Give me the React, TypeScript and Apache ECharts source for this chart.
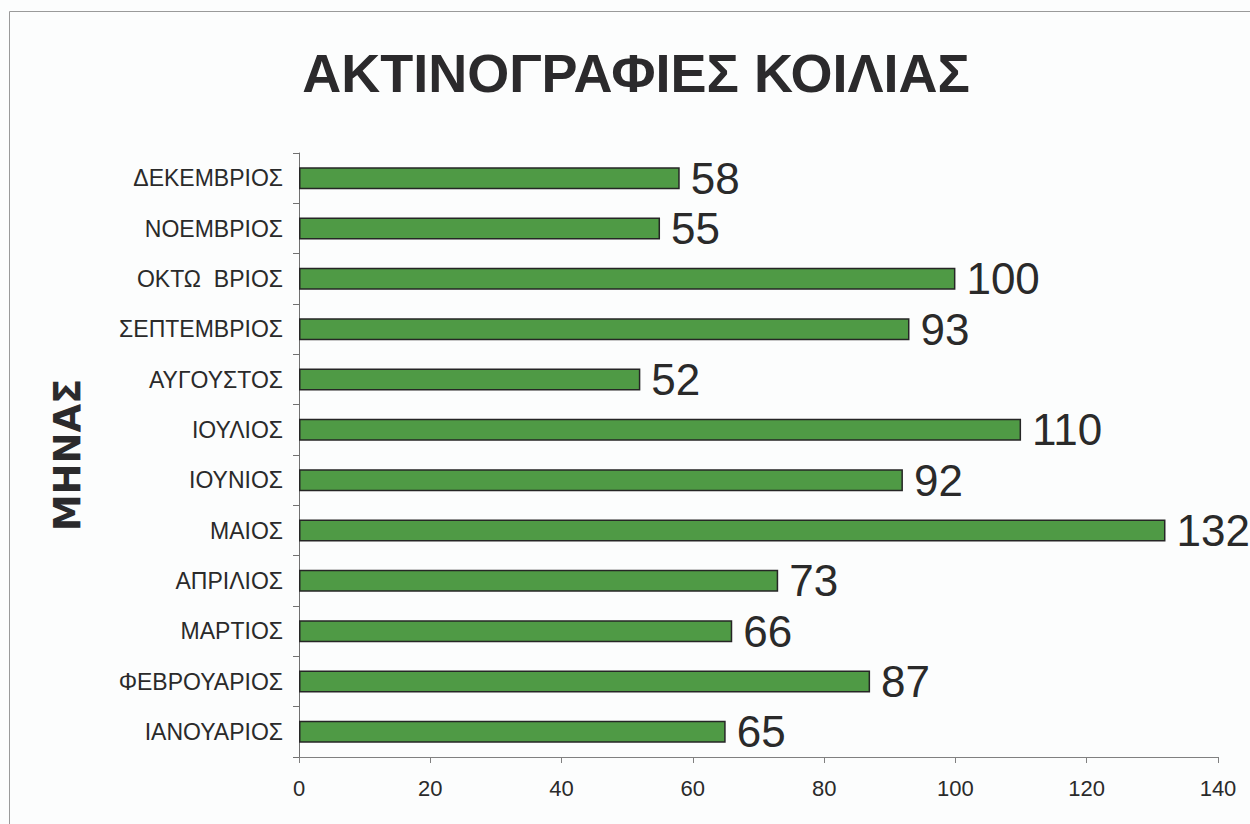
import React, { useEffect, useRef } from "react";
import * as echarts from "echarts";

const months = [
  "ΙΑΝΟΥΑΡΙΟΣ",
  "ΦΕΒΡΟΥΑΡΙΟΣ",
  "ΜΑΡΤΙΟΣ",
  "ΑΠΡΙΛΙΟΣ",
  "ΜΑΙΟΣ",
  "ΙΟΥΝΙΟΣ",
  "ΙΟΥΛΙΟΣ",
  "ΑΥΓΟΥΣΤΟΣ",
  "ΣΕΠΤΕΜΒΡΙΟΣ",
  "ΟΚΤΩ  ΒΡΙΟΣ",
  "ΝΟΕΜΒΡΙΟΣ",
  "ΔΕΚΕΜΒΡΙΟΣ",
];
const counts = [65, 87, 66, 73, 132, 92, 110, 52, 93, 100, 55, 58];
const xTicks = { min: 0, max: 140, interval: 20 };
const titleText = "ΑΚΤΙΝΟΓΡΑΦΙΕΣ ΚΟΙΛΙΑΣ";
const yAxisTitle = "ΜΗΝΑΣ";

export default function App() {
  const ref = useRef<HTMLDivElement>(null);
  useEffect(() => {
    if (!ref.current) return;
    const chart = echarts.init(ref.current, null, { renderer: "svg" });
    const font = "Liberation Sans, Arial, sans-serif";
    chart.setOption({
      animation: false,
      backgroundColor: "#fcfdfd",
      textStyle: { fontFamily: font },
      graphic: [
        {
          type: "rect",
          shape: { x: 9.5, y: 11.5, width: 1300, height: 900 },
          style: { fill: "none", stroke: "#9a9a9a", lineWidth: 1 },
          silent: true,
        },
      ],
      title: {
        text: titleText,
        left: 631,
        top: 41,
        textAlign: "center",
        textStyle: {
          fontFamily: font,
          fontSize: 54,
          fontWeight: "bold",
          color: "#2b2a2c",
        },
      },
      grid: { left: 299, right: 32, top: 153, bottom: 67, containLabel: false },
      xAxis: {
        type: "value",
        min: xTicks.min,
        max: xTicks.max,
        interval: xTicks.interval,
        splitLine: { show: false },
        axisLine: { show: true, lineStyle: { color: "#808080", width: 1 } },
        axisTick: { show: true, length: 6, lineStyle: { color: "#808080" } },
        axisLabel: {
          color: "#2a2a2a",
          fontSize: 22,
          margin: 20,
          fontFamily: font,
        },
      },
      yAxis: {
        type: "category",
        data: months,
        name: yAxisTitle,
        nameLocation: "middle",
        nameGap: 213,
        nameRotate: 90,
        nameTextStyle: {
          fontSize: 37,
          fontWeight: "bold",
          color: "#2b2a2c",
          fontFamily: "DejaVu Sans, sans-serif",
        },
        axisLine: { show: true, lineStyle: { color: "#707070", width: 1 } },
        axisTick: { show: true, length: 6, lineStyle: { color: "#707070" } },
        axisLabel: {
          color: "#2a2a2a",
          fontSize: 23,
          margin: 16,
          fontFamily: font,
        },
      },
      series: [
        {
          type: "bar",
          data: counts,
          barWidth: 22,
          itemStyle: {
            color: "#4f9a45",
            borderColor: "#262626",
            borderWidth: 1.5,
          },
          label: {
            show: true,
            position: "right",
            distance: 11,
            fontSize: 44,
            color: "#2a2a2a",
            fontFamily: font,
          },
        },
      ],
    });
    return () => chart.dispose();
  }, []);
  return (
    <div
      ref={ref}
      style={{ position: "fixed", left: 0, top: 0, width: 1250, height: 824 }}
    />
  );
}
